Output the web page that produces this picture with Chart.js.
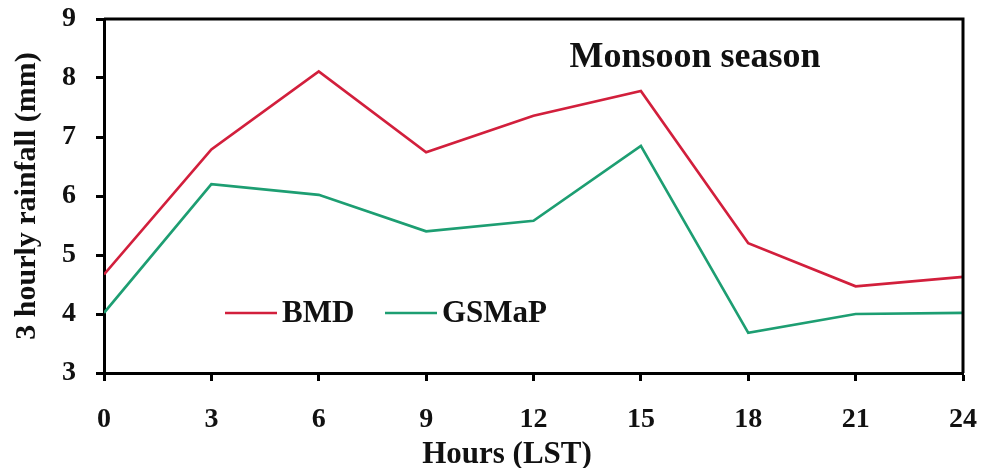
<!DOCTYPE html>
<html>
<head>
<meta charset="utf-8">
<script src="https://cdn.jsdelivr.net/npm/chart.js@4/dist/chart.umd.min.js"></script>
<style>
  html, body { margin: 0; padding: 0; background: #fff; }
  #wrap { width: 981px; height: 468px; }
</style>
</head>
<body>
<div id="wrap"><canvas id="rainChart" width="981" height="468"></canvas></div>
<script>
// values
const hours = [0, 3, 6, 9, 12, 15, 18, 21, 24];
const bmd   = [4.67, 6.79, 8.11, 6.74, 7.36, 7.78, 5.20, 4.47, 4.63];
const gsmap = [4.02, 6.20, 6.02, 5.40, 5.58, 6.85, 3.68, 4.00, 4.02];
const yTicks = [3, 4, 5, 6, 7, 8, 9];

const FONT = '"Liberation Serif", "Times New Roman", serif';
const RED = '#d21f3c';
const GREEN = '#1d9e72';

const toPoints = (xs, ys) => xs.map((x, i) => ({ x: x, y: ys[i] }));

// frame (top + right edge), inner title, x title and legend
const decor = {
    id: 'decor',
    afterDraw(chart) {
        const ctx = chart.ctx;
        const a = chart.chartArea;
        ctx.save();
        ctx.strokeStyle = '#000';
        ctx.lineWidth = 3;
        ctx.beginPath();
        ctx.moveTo(a.left, a.top);
        ctx.lineTo(a.right, a.top);
        ctx.lineTo(a.right, a.bottom);
        ctx.stroke();

        ctx.fillStyle = '#111';
        ctx.font = 'bold 36px ' + FONT;
        ctx.textAlign = 'center';
        ctx.textBaseline = 'alphabetic';
        ctx.fillText('Monsoon season', a.left + 591, a.top + 48);

        ctx.font = 'bold 31px ' + FONT;
        ctx.textBaseline = 'middle';
        ctx.fillText('Hours (LST)', a.left + 403, a.bottom + 82);

        // legend
        const items = [
            { label: 'BMD', color: RED, x: 121 },
            { label: 'GSMaP', color: GREEN, x: 281 }
        ];
        const ly = a.top + 294;
        ctx.textAlign = 'left';
        items.forEach(it => {
            ctx.strokeStyle = it.color;
            ctx.lineWidth = 2.5;
            ctx.beginPath();
            ctx.moveTo(a.left + it.x, ly);
            ctx.lineTo(a.left + it.x + 52, ly);
            ctx.stroke();
            ctx.fillStyle = '#111';
            ctx.fillText(it.label, a.left + it.x + 57, ly + 1);
        });
        ctx.restore();
    }
};

new Chart(document.getElementById('rainChart'), {
    type: 'line',
    data: {
        datasets: [
            { label: 'BMD', data: toPoints(hours, bmd), borderColor: RED, borderWidth: 2.7, pointRadius: 0, tension: 0 },
            { label: 'GSMaP', data: toPoints(hours, gsmap), borderColor: GREEN, borderWidth: 2.7, pointRadius: 0, tension: 0 }
        ]
    },
    options: {
        responsive: false,
        animation: false,
        layout: { padding: { top: 19, right: 18, left: 0, bottom: 0 } },
        plugins: {
            legend: { display: false },
            tooltip: { enabled: false }
        },
        scales: {
            x: {
                type: 'linear',
                min: 0,
                max: 24,
                afterFit(s) {
                    s.height = 95;
                    s.paddingLeft = 0;
                    s.paddingRight = 0;
                },
                ticks: {
                    stepSize: 3,
                    color: '#111',
                    padding: 22,
                    font: { family: FONT, size: 28, weight: 'bold' }
                },
                grid: { drawOnChartArea: false, drawTicks: true, tickLength: 8, tickWidth: 3, tickColor: '#000' },
                border: { display: true, color: '#000', width: 3 }
            },
            y: {
                min: 3,
                max: 9,
                afterFit(s) {
                    s.width = 104;
                    s.paddingTop = 0;
                    s.paddingBottom = 0;
                },
                afterBuildTicks(s) { s.ticks = yTicks.map(v => ({ value: v })); },
                ticks: {
                    color: '#111',
                    padding: 20,
                    font: { family: FONT, size: 28, weight: 'bold' }
                },
                grid: { drawOnChartArea: false, drawTicks: true, tickLength: 8, tickWidth: 3, tickColor: '#000' },
                border: { display: true, color: '#000', width: 3 },
                title: {
                    display: true,
                    text: '3 hourly rainfall (mm)',
                    color: '#111',
                    padding: { top: 9, bottom: 0 },
                    font: { family: FONT, size: 30, weight: 'bold' }
                }
            }
        }
    },
    plugins: [decor]
});
</script>
</body>
</html>
